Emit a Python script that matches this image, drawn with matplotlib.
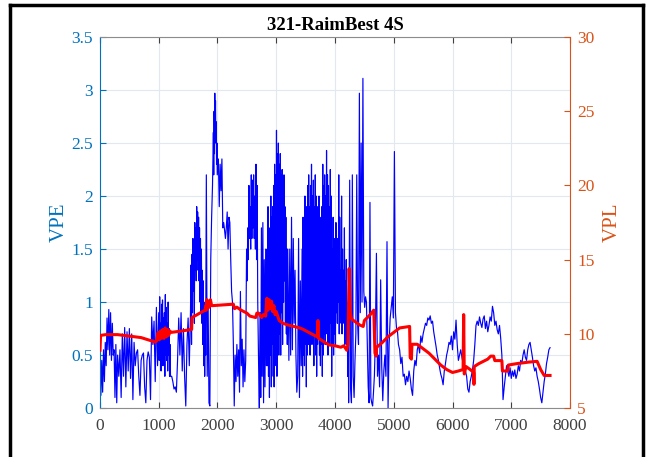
#dual axis plot: VPE (left) and VPL (right)
import numpy as np
import matplotlib
matplotlib.use('Agg')
import matplotlib.pyplot as plt
from matplotlib.lines import Line2D

plt.rcParams['font.family'] = ['Liberation Serif', 'DejaVu Serif']

title = '321-RaimBest 4S'

vpe_segments = [
    (0, 15, [0.35, 0.12, 0.45, 0.15, 0.55, 0.25, 0.62, 0.4, 0.85, 0.55, 0.93, 0.5, 0.9, 0.45, 0.8, 0.5,
             0.55, 0.1, 0.6, 0.05, 0.5]),
    (320, 20, [0.3, 0.55, 0.1, 0.7, 0.3, 0.76, 0.2, 0.72, 0.35, 0.75, 0.28, 0.7, 0.08, 0.62, 0.4, 0.52,
               0.55, 0.3, 0.12, 0.45, 0.5, 0.52, 0.2, 0.05, 0.45, 0.53, 0.48, 0.08, 0.86, 0.6, 0.82, 0.25,
               0.95, 0.4]),
    (1000, 8, [0.9, 0.45, 1.05, 0.6, 0.8, 0.35, 0.98, 0.55, 1.02, 0.4, 0.85, 0.6, 0.9, 0.3, 1.07, 0.5,
               0.95, 0.45, 0.8, 0.35, 1.0, 0.5, 0.75, 0.3, 0.6, 0.3]),
    (1220, 20, [0.3, 0.25, 0.18, 0.2, 0.15, 0.45, 0.85, 0.5, 0.9, 0.35, 0.75, 0.3, 0.02, 0.6, 0.85, 0.4,
                0.9]),
    (1550, 8, [1.35, 0.6, 1.45, 0.9, 1.6, 1.1, 1.5, 0.8, 1.75, 1.3, 1.7, 1.2, 1.9, 1.4, 1.85, 1.3,
               1.8, 1.2, 1.7, 1.0, 1.6, 0.9, 1.5, 0.8, 1.3, 0.6, 1.2, 0.4, 1.0, 0.3, 0.9, 0.5]),
    (1810, 15, [2.2, 0.3, 1.0, 0.05, 0.02, 1.4, 1.8, 2.1]),
    (1930, 6, [2.6, 2.2, 2.8, 2.4, 2.97, 2.6, 2.9, 2.5, 2.7, 2.3, 2.5, 2.2]),
    (2015, 15, [2.35, 1.9, 2.3, 2.05, 2.35, 1.7, 1.75, 1.68, 1.6, 1.7, 1.85, 1.5, 1.8, 1.75, 1.4, 1.1,
                1.0, 0.6, 0.02]),
    (2300, 15, [0.5, 0.25, 0.6, 0.3, 0.55, 0.15, 1.1, 0.4, 0.65, 0.2, 0.55, 0.25, 0.45]),
    (2495, 10, [1.5, 1.2, 1.7, 1.4, 2.1, 1.6, 1.9, 1.5, 2.2, 1.6, 2.15, 1.7, 2.2, 1.6, 2.0, 1.5,
                2.3, 1.4, 2.1, 1.0]),
    (2700, 12, [0.4, 0.0, 0.9, 0.1, 1.7, 0.3, 1.75, 0.05, 1.4, 0.2, 1.5, 0.4]),
    (2844, 8, [1.5, 0.4, 1.9, 0.3, 1.6, 0.1, 1.7, 0.5, 2.0, 0.2, 1.8, 0.6, 1.9, 0.3, 2.1, 0.2,
               2.3, 0.6, 2.2, 0.4, 2.62, 0.3, 2.4, 0.8, 2.5, 0.5, 2.3, 0.7, 2.4, 0.5, 2.2, 0.9,
               2.25, 0.6, 2.0, 1.0, 2.2, 1.2, 1.9, 0.8, 1.8, 0.7, 1.5, 0.6, 1.5]),
    (3215, 15, [0.45, 1.5, 0.5, 1.8, 0.55, 1.6, 0.8, 1.3, 0.5, 0.15, 0.3, 1.6, 0.1, 1.2, 0.4]),
    (3440, 8, [1.5, 0.3, 1.8, 0.5, 1.6, 0.4, 2.0, 0.6, 1.7, 0.2, 1.9, 0.5, 2.1, 0.6, 2.2, 0.8,
               1.9, 0.5, 2.1, 0.7, 2.3, 0.6, 2.0, 0.9, 2.15, 0.4, 1.9, 0.7, 2.2, 0.5, 2.0, 0.3,
               1.9, 0.6, 1.7, 0.8, 2.0, 0.5, 1.8, 0.4, 1.7, 0.6, 1.9, 0.3, 2.3, 0.5, 2.1, 0.7,
               2.2, 0.6, 2.0, 0.8, 2.43, 0.7, 2.2, 0.5, 2.1, 0.9, 1.9, 0.6, 2.25, 0.8, 2.0, 0.3,
               1.5, 0.6, 1.8, 0.5, 1.6, 0.7]),
    (4000, 8, [1.3, 0.6, 1.75, 0.9, 1.4, 0.8, 1.6, 1.0, 2.2, 0.7, 1.8, 0.9, 1.3, 0.8, 2.0, 0.7,
               1.5, 0.9, 1.3, 0.8, 1.7, 0.6, 1.2, 0.7, 1.4, 0.6, 1.0, 0.3, 0.9, 0.05]),
    (4250, 15, [2.15, 0.2, 0.05, 2.2, 0.3, 0.1, 0.45, 0.7, 2.2, 0.8, 0.6, 2.97, 0.9, 2.5, 1.0, 3.11,
                1.1, 0.95, 1.05, 1.0, 0.6, 0.2, 0.05, 1.94, 0.1, 0.05, 0.02, 0.15, 0.3, 0.6]),
    (4705, 18, [1.46, 0.3, 0.5, 0.2, 1.21, 0.4, 0.07, 0.35, 0.5, 0.3, 1.57, 0.0, 0.6, 0.85, 0.95, 1.05,
                0.85, 2.42, 0.9, 0.75]),
    (5060, 20, [0.75, 0.6, 0.55, 0.42, 0.48, 0.3, 0.32, 0.22, 0.3, 0.25, 0.35, 0.28, 0.18, 0.12, 0.35, 0.45,
                0.4, 0.55, 0.6, 0.52, 0.68, 0.62, 0.7, 0.75, 0.8, 0.78, 0.85, 0.83, 0.87, 0.8, 0.82, 0.72,
                0.65, 0.58, 0.5, 0.45, 0.38, 0.32, 0.28, 0.22, 0.35, 0.42, 0.5, 0.55, 0.62, 0.6, 0.68, 0.55,
                0.72, 0.65, 0.83, 0.6, 0.45, 0.5, 0.55, 0.48, 0.42, 0.4, 0.35, 0.3, 0.18, 0.15, 0.25, 0.3,
                0.36, 0.45, 0.6, 0.78, 0.82, 0.78, 0.86, 0.8, 0.76, 0.84, 0.87, 0.75, 0.82, 0.72, 0.78, 0.86,
                0.82, 0.96, 0.9, 0.78, 0.82, 0.74, 0.7, 0.78, 0.66, 0.5, 0.08, 0.2, 0.3, 0.4, 0.35, 0.3,
                0.38, 0.28, 0.35, 0.3, 0.36, 0.28, 0.32, 0.4, 0.35, 0.45, 0.42, 0.5, 0.55, 0.48, 0.45, 0.55,
                0.6, 0.62, 0.55, 0.48, 0.4, 0.35, 0.38, 0.3, 0.25, 0.18, 0.1, 0.05, 0.15, 0.25, 0.32, 0.42,
                0.48, 0.55, 0.57]),
]

# VPL samples (epoch, value)
vpl_x = [0, 10, 100, 300, 500, 700, 940,
         960, 990, 1010, 1030, 1050, 1070, 1090, 1110, 1130, 1150, 1170, 1190, 1210,
         1400, 1560, 1565, 1700, 1790, 1800, 1810, 1820, 1830, 1845, 1860, 1880, 1900,
         2270, 2290, 2330, 2400, 2500, 2550, 2650, 2670, 2700, 2750, 2780, 2820, 2840,
         2860, 2880, 2900, 2920, 2940, 2960, 2980, 3000, 3050, 3120, 3200, 3300, 3400, 3460,
         3600, 3700, 3710, 3720, 3800, 3900, 4000, 4100, 4150, 4200, 4220, 4240, 4260, 4280,
         4350, 4420, 4480, 4500, 4600, 4660, 4680, 4700, 4710, 4800, 4900, 5000, 5100, 5270,
         5280, 5300, 5310, 5400, 5500, 5600, 5700, 5800, 5900, 6000, 6100, 6180, 6190, 6200,
         6230, 6300, 6360, 6365, 6370, 6450, 6600, 6650, 6700, 6720, 6840, 6850, 6940, 6950,
         7100, 7300, 7440, 7500, 7560, 7660]
vpl_y = [8.9, 9.9, 9.95, 9.95, 9.85, 9.75, 9.45,
         9.5, 10.1, 9.6, 10.2, 9.7, 10.3, 9.7, 10.4, 9.8, 10.3, 9.9, 10.2, 10.1,
         10.2, 10.3, 11.1, 11.4, 11.6, 11.9, 11.6, 12.3, 11.7, 12.2, 11.8, 12.3, 11.9,
         12.0, 11.7, 11.8, 11.6, 11.4, 11.2, 11.1, 11.4, 11.4, 11.1, 11.3, 11.2, 12.4,
         11.6, 12.3, 11.7, 12.2, 11.5, 11.9, 11.3, 11.5, 10.9, 10.7, 10.6, 10.5, 10.4, 10.3,
         10.0, 9.8, 10.9, 9.7, 9.5, 9.25, 9.2, 9.1, 9.2, 8.9, 9.3, 14.4, 11.5, 11.0,
         10.8, 10.6, 10.5, 10.9, 11.3, 11.6, 8.7, 8.5, 9.1, 9.4, 9.8, 10.1, 10.4, 10.5,
         8.4, 8.3, 9.3, 9.3, 9.0, 8.7, 8.3, 7.9, 7.6, 7.4, 7.5, 7.6, 11.3, 7.3,
         7.8, 7.6, 7.4, 6.6, 7.8, 8.0, 8.3, 8.5, 8.5, 8.2, 8.2, 7.5, 7.5, 7.9,
         8.0, 8.1, 8.15, 7.6, 7.2, 7.2]

vpe_x, vpe_y = [], []
for start, step, vals in vpe_segments:
    vpe_x += [start + step * i for i in range(len(vals))]
    vpe_y += vals

c_left = '#0072BD'
c_right = '#D95319'

fig = plt.figure(figsize=(6.51, 4.57), dpi=100)
ax = fig.add_axes([0.1536, 0.107, 0.7220, 0.812])
ax.plot(vpe_x, vpe_y, color='blue', lw=0.85)
ax.set_xlim(0, 8000)
ax.set_ylim(0, 3.5)
ax.set_xticks(np.arange(0, 8001, 1000))
ax.set_yticks(np.arange(0, 3.51, 0.5))
ax.set_yticklabels(['0', '0.5', '1', '1.5', '2', '2.5', '3', '3.5'])
ax.grid(True, color='#e2e8ef', lw=0.8)
ax.set_axisbelow(True)
ax.set_ylabel('VPE', color=c_left, fontsize=15, labelpad=2)
ax.tick_params(axis='y', colors=c_left, direction='in', labelsize=12.5, length=4, pad=5)
ax.tick_params(axis='x', colors='#404040', direction='in', labelsize=12.5, length=4, pad=7, top=True)
ax.spines['left'].set_color(c_left)
for s in ['top', 'bottom']:
    ax.spines[s].set_color('#8c8c8c')
ax.spines['right'].set_visible(False)
ax.set_title(title, fontsize=13.5, fontweight='bold', pad=5)

ax2 = ax.twinx()
ax2.plot(vpl_x, vpl_y, color='red', lw=2.2)
ax2.set_ylim(5, 30)
ax2.set_yticks(np.arange(5, 31, 5))
ax2.set_ylabel('VPL', color=c_right, fontsize=15, labelpad=6)
ax2.tick_params(axis='y', colors=c_right, direction='in', labelsize=12.5, length=4, pad=5)
ax2.spines['right'].set_color(c_right)
for s in ['top', 'bottom', 'left']:
    ax2.spines[s].set_visible(False)

# black frame around the figure (no bottom edge)
fw = 2.5
fig.add_artist(Line2D([0.0154, 0.0154], [0, 0.99], transform=fig.transFigure, color='k', lw=fw))
fig.add_artist(Line2D([0.988, 0.988], [0, 0.99], transform=fig.transFigure, color='k', lw=fw))
fig.add_artist(Line2D([0.0154, 0.988], [0.99, 0.99], transform=fig.transFigure, color='k', lw=fw))

fig.savefig('out.png', dpi=100)
